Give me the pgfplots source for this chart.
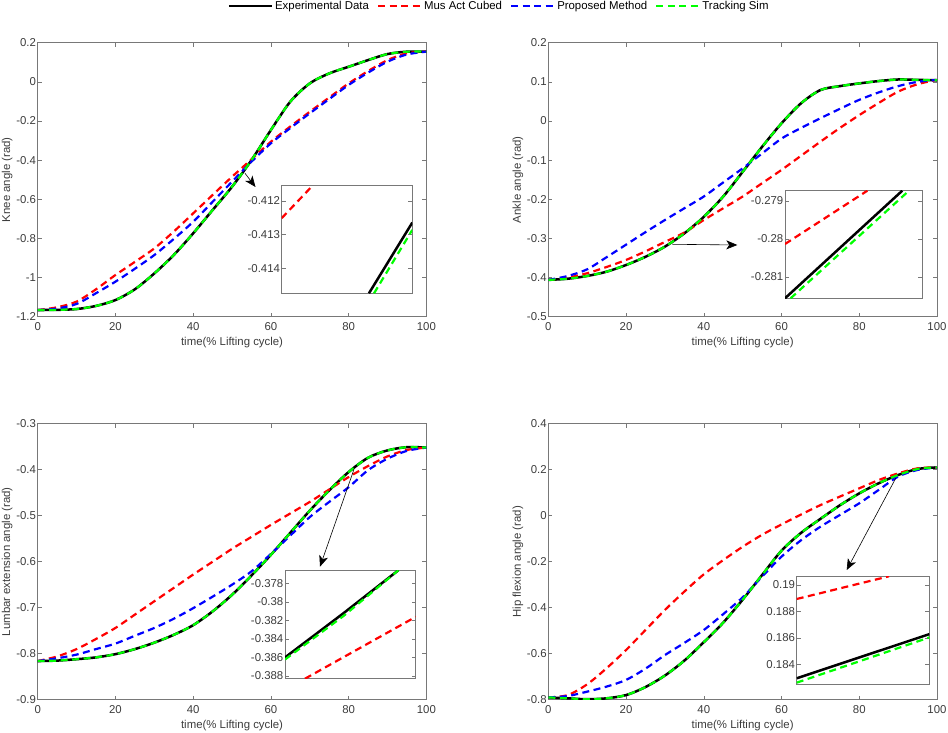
\documentclass[border=0pt]{standalone}
\usepackage{fontspec}
\setmainfont{Liberation Sans}
\usepackage{pgfplots}
\pgfplotsset{compat=1.18}
\usetikzlibrary{arrows.meta}
\definecolor{txt}{RGB}{60,60,60}
\definecolor{axg}{RGB}{120,120,120}
\newcommand{\fs}{\fontsize{11.4}{13}\selectfont}
\pgfplotsset{
  base/.style={scale only axis, anchor=south west,
    tick align=inside, axis line style={axg, line width=0.6pt},
    tick style={axg, line width=0.5pt}, major tick length=4pt,
    ticklabel style={font=\fs, text=txt},
    label style={font=\fs, text=txt},
    yticklabel style={inner xsep=1.5pt},
    axis background/.style={fill=white}},
  main/.style={base, width=388.7pt, xmin=0, xmax=100,
    xtick={0,20,40,60,80,100}, xticklabels={0,20,40,60,80,100},
    xticklabel style={yshift=-2.5pt},
    xlabel={time(\% Lifting cycle)},
    xlabel style={at={(axis description cs:0.5,0)}, anchor=center, yshift=-26pt},
    ylabel style={at={(axis description cs:0,0.5)}, anchor=center, yshift=30.5pt}},
  inset/.style={base, xmin=0, xmax=1, xtick=\empty, ytick pos=both},
  exp/.style={black, line width=2.5pt},
  mus/.style={red, line width=2.2pt, dash pattern=on 7pt off 4.5pt},
  prop/.style={blue, line width=2.2pt, dash pattern=on 7pt off 4.5pt},
  trk/.style={green, line width=2.2pt, dash pattern=on 7pt off 4.5pt},
}
\begin{document}
\begin{tikzpicture}
\useasboundingbox (0,0) rectangle (948pt,733pt);
% ---------------- Knee ----------------
\begin{axis}[main, at={(37.7pt,416.3pt)}, height=274pt,
  ymin=-1.2, ymax=0.2, ytick={-1.2,-1,-0.8,-0.6,-0.4,-0.2,0,0.2},
  yticklabels={-1.2,-1,-0.8,-0.6,-0.4,-0.2,0,0.2},
  ylabel={Knee angle (rad)},
  legend columns=4,
  legend style={at={(axis description cs:1.187,1.134)}, anchor=center, draw=none, fill=none,
    font=\fs, text=black, /tikz/every even column/.style={column sep=6pt}},
  legend image code/.code={\draw[#1] (0pt,0pt) -- (43pt,0pt);}]
\addplot[exp, smooth] coordinates {(0,-1.166)(5,-1.165)(10,-1.161)(15,-1.145)(20,-1.115)(25,-1.06)(30,-0.979)(35,-0.885)(40,-0.774)(45,-0.655)(50,-0.536)(55,-0.40)(60,-0.246)(65,-0.101)(70,-0.008)(75,0.043)(80,0.077)(85,0.111)(90,0.142)(95,0.154)(100,0.154)};
\addlegendentry{Experimental Data}
\addplot[mus, smooth] coordinates {(0,-1.166)(5,-1.152)(10,-1.123)(15,-1.06)(20,-0.987)(25,-0.92)(30,-0.851)(35,-0.765)(40,-0.672)(45,-0.578)(50,-0.485)(55,-0.396)(60,-0.306)(65,-0.228)(70,-0.153)(75,-0.08)(80,-0.008)(85,0.055)(90,0.111)(95,0.146)(100,0.154)};
\addlegendentry{Mus Act Cubed}
\addplot[prop, smooth] coordinates {(0,-1.166)(5,-1.158)(10,-1.135)(15,-1.08)(20,-1.021)(25,-0.955)(30,-0.885)(35,-0.803)(40,-0.715)(45,-0.613)(50,-0.510)(55,-0.408)(60,-0.314)(65,-0.236)(70,-0.161)(75,-0.088)(80,-0.016)(85,0.047)(90,0.103)(95,0.14)(100,0.154)};
\addlegendentry{Proposed Method}
\addplot[trk, smooth] coordinates {(0,-1.166)(5,-1.165)(10,-1.161)(15,-1.145)(20,-1.115)(25,-1.06)(30,-0.979)(35,-0.885)(40,-0.774)(45,-0.655)(50,-0.536)(55,-0.40)(60,-0.246)(65,-0.101)(70,-0.008)(75,0.043)(80,0.077)(85,0.111)(90,0.142)(95,0.154)(100,0.154)};
\addlegendentry{Tracking Sim}
\end{axis}
% ---------------- Ankle ----------------
\begin{axis}[main, at={(548.3pt,416.3pt)}, height=274pt,
  ymin=-0.5, ymax=0.2, ytick={-0.5,-0.4,-0.3,-0.2,-0.1,0,0.1,0.2},
  yticklabels={-0.5,-0.4,-0.3,-0.2,-0.1,0,0.1,0.2},
  ylabel={Ankle angle (rad)}]
\addplot[exp, smooth] coordinates {(0,-0.406)(5,-0.403)(10,-0.396)(15,-0.385)(20,-0.368)(25,-0.347)(30,-0.321)(35,-0.287)(40,-0.245)(45,-0.193)(50,-0.130)(55,-0.066)(60,-0.006)(65,0.045)(70,0.079)(75,0.089)(80,0.096)(85,0.102)(90,0.106)(95,0.105)(100,0.104)};
\addplot[mus, smooth] coordinates {(0,-0.406)(5,-0.400)(10,-0.389)(15,-0.373)(20,-0.355)(25,-0.333)(30,-0.309)(35,-0.285)(40,-0.253)(45,-0.223)(50,-0.193)(55,-0.159)(60,-0.125)(65,-0.089)(70,-0.053)(75,-0.018)(80,0.015)(85,0.046)(90,0.075)(95,0.094)(100,0.105)};
\addplot[prop, smooth] coordinates {(0,-0.406)(5,-0.396)(10,-0.379)(15,-0.348)(20,-0.316)(25,-0.284)(30,-0.253)(35,-0.223)(40,-0.193)(45,-0.157)(50,-0.121)(55,-0.083)(60,-0.045)(65,-0.018)(70,0.007)(75,0.031)(80,0.054)(85,0.073)(90,0.089)(95,0.100)(100,0.105)};
\addplot[trk, smooth] coordinates {(0,-0.406)(5,-0.403)(10,-0.396)(15,-0.385)(20,-0.368)(25,-0.347)(30,-0.321)(35,-0.287)(40,-0.245)(45,-0.193)(50,-0.130)(55,-0.066)(60,-0.006)(65,0.045)(70,0.079)(75,0.089)(80,0.096)(85,0.102)(90,0.106)(95,0.105)(100,0.104)};
\end{axis}
% ---------------- Lumbar ----------------
\begin{axis}[main, at={(37.7pt,33.3pt)}, height=276pt,
  ymin=-0.9, ymax=-0.3, ytick={-0.9,-0.8,-0.7,-0.6,-0.5,-0.4,-0.3},
  yticklabels={-0.9,-0.8,-0.7,-0.6,-0.5,-0.4,-0.3},
  ylabel={Lumbar extension angle (rad)}]
\addplot[exp, smooth] coordinates {(0,-0.816)(5,-0.815)(10,-0.812)(15,-0.808)(20,-0.801)(25,-0.790)(30,-0.776)(35,-0.759)(40,-0.738)(45,-0.708)(50,-0.672)(55,-0.630)(60,-0.585)(65,-0.537)(70,-0.489)(75,-0.445)(80,-0.405)(85,-0.374)(90,-0.358)(95,-0.351)(100,-0.352)};
\addplot[mus, smooth] coordinates {(0,-0.816)(5,-0.806)(10,-0.790)(15,-0.768)(20,-0.744)(25,-0.715)(30,-0.686)(35,-0.657)(40,-0.628)(45,-0.600)(50,-0.572)(55,-0.546)(60,-0.520)(65,-0.495)(70,-0.470)(75,-0.443)(80,-0.416)(85,-0.392)(90,-0.371)(95,-0.357)(100,-0.352)};
\addplot[prop, smooth] coordinates {(0,-0.816)(5,-0.810)(10,-0.802)(15,-0.790)(20,-0.778)(25,-0.761)(30,-0.744)(35,-0.724)(40,-0.701)(45,-0.676)(50,-0.650)(55,-0.621)(60,-0.583)(65,-0.543)(70,-0.503)(75,-0.470)(80,-0.438)(85,-0.401)(90,-0.376)(95,-0.359)(100,-0.352)};
\addplot[trk, smooth] coordinates {(0,-0.816)(5,-0.815)(10,-0.812)(15,-0.808)(20,-0.801)(25,-0.790)(30,-0.776)(35,-0.759)(40,-0.738)(45,-0.708)(50,-0.672)(55,-0.630)(60,-0.585)(65,-0.537)(70,-0.489)(75,-0.445)(80,-0.405)(85,-0.374)(90,-0.358)(95,-0.351)(100,-0.352)};
\end{axis}
% ---------------- Hip ----------------
\begin{axis}[main, at={(548.3pt,33.3pt)}, height=276pt,
  ymin=-0.8, ymax=0.4, ytick={-0.8,-0.6,-0.4,-0.2,0,0.2,0.4},
  yticklabels={-0.8,-0.6,-0.4,-0.2,0,0.2,0.4},
  ylabel={Hip flexion angle (rad)}]
\addplot[exp, smooth] coordinates {(0,-0.790)(5,-0.794)(10,-0.798)(15,-0.794)(20,-0.780)(25,-0.745)(30,-0.695)(35,-0.630)(40,-0.550)(45,-0.465)(50,-0.365)(55,-0.258)(60,-0.152)(65,-0.075)(70,-0.014)(75,0.045)(80,0.097)(85,0.141)(90,0.177)(95,0.203)(100,0.210)};
\addplot[mus, smooth] coordinates {(0,-0.790)(5,-0.780)(10,-0.733)(15,-0.663)(20,-0.584)(25,-0.497)(30,-0.410)(35,-0.330)(40,-0.255)(45,-0.193)(50,-0.135)(55,-0.083)(60,-0.038)(65,0.005)(70,0.046)(75,0.083)(80,0.119)(85,0.155)(90,0.184)(95,0.206)(100,0.210)};
\addplot[prop, smooth] coordinates {(0,-0.790)(5,-0.784)(10,-0.765)(15,-0.743)(20,-0.714)(25,-0.665)(30,-0.606)(35,-0.553)(40,-0.497)(45,-0.428)(50,-0.355)(55,-0.265)(60,-0.178)(65,-0.107)(70,-0.048)(75,0.003)(80,0.054)(85,0.112)(90,0.170)(95,0.199)(100,0.210)};
\addplot[trk, smooth] coordinates {(0,-0.790)(5,-0.794)(10,-0.798)(15,-0.794)(20,-0.780)(25,-0.745)(30,-0.695)(35,-0.630)(40,-0.550)(45,-0.465)(50,-0.365)(55,-0.258)(60,-0.152)(65,-0.075)(70,-0.014)(75,0.045)(80,0.097)(85,0.141)(90,0.177)(95,0.203)(100,0.210)};
\end{axis}
% ---------------- Insets ----------------
\begin{axis}[inset, at={(281.7pt,439.7pt)}, width=130.6pt, height=108.3pt,
  ymin=-0.41474, ymax=-0.41153, ytick={-0.414,-0.413,-0.412},
  yticklabels={-0.414,-0.413,-0.412}]
\addplot[exp] coordinates {(0.668,-0.41474)(1,-0.412644)};
\addplot[mus] coordinates {(0,-0.412513)(0.23,-0.411576)};
\addplot[trk] coordinates {(0.707,-0.41474)(1,-0.41286)};
\end{axis}
\begin{axis}[inset, at={(785pt,434.7pt)}, width=137.3pt, height=107.6pt,
  ymin=-0.28156, ymax=-0.278729, ytick={-0.281,-0.28,-0.279},
  yticklabels={-0.281,-0.28,-0.279}]
\addplot[exp] coordinates {(0,-0.28156)(0.854,-0.278729)};
\addplot[mus] coordinates {(0,-0.280132)(0.6,-0.278729)};
\addplot[trk] coordinates {(0.041,-0.28156)(0.903,-0.278729)};
\end{axis}
\begin{axis}[inset, at={(285pt,54.3pt)}, width=130.7pt, height=108.4pt,
  ymin=-0.388291, ymax=-0.376597, ytick={-0.388,-0.386,-0.384,-0.382,-0.38,-0.378},
  yticklabels={-0.388,-0.386,-0.384,-0.382,-0.38,-0.378}]
\addplot[exp] coordinates {(0,-0.386)(0.45,-0.3812)(0.867,-0.376597)};
\addplot[mus] coordinates {(0.153,-0.388291)(1,-0.38162)};
\addplot[trk] coordinates {(0,-0.38622)(0.45,-0.3815)(0.867,-0.376597)};
\end{axis}
\begin{axis}[inset, at={(796.7pt,49pt)}, width=132.6pt, height=107.7pt,
  ymin=0.182509, ymax=0.190658, ytick={0.184,0.186,0.188,0.19},
  yticklabels={0.184,0.186,0.188,0.19}]
\addplot[exp] coordinates {(0,0.182941)(1,0.18628)};
\addplot[mus] coordinates {(0,0.188941)(0.696,0.190658)};
\addplot[trk] coordinates {(0,0.18261)(1,0.18603)};
\end{axis}
% ---------------- Arrows ----------------
\begin{scope}[-{Stealth[length=11pt,width=9pt,inset=3pt]}, black, line width=0.6pt]
\draw (245pt,559.7pt) -- (255.5pt,546pt);
\draw (672.3pt,488.7pt) -- (737.3pt,488pt);
\draw (354pt,263.7pt) -- (320pt,166.3pt);
\draw (895.7pt,254.7pt) -- (846.7pt,163pt);
\end{scope}
\end{tikzpicture}
\end{document}
